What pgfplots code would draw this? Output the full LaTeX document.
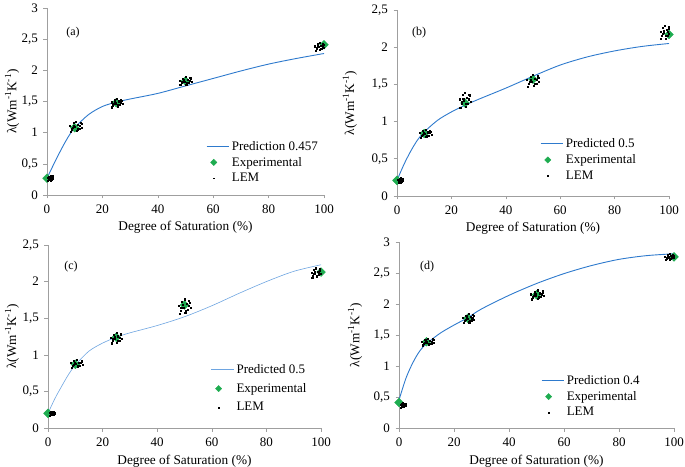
\documentclass[border=0pt]{standalone}
\usepackage{pgfplots}
\pgfplotsset{compat=1.18}
\usepackage{fontspec}
\setmainfont{Liberation Serif}
\definecolor{predblue}{RGB}{46,122,205}
\definecolor{predlight}{RGB}{110,165,225}
\definecolor{expgreen}{RGB}{30,172,80}
\tikzset{plabel/.style={font=\fontsize{12}{12}\selectfont}}
\pgfplotsset{
  panel/.style={
    scale only axis,
    axis x line*=bottom, axis y line*=left,
    axis line style={gray!75, line width=0.6pt},
    tick style={gray!75, line width=0.6pt},
    major tick length=3.5pt, tick align=outside,
    xmin=0, xmax=100, ymin=0,
    xtick={0,20,...,100},
    ticklabel style={font=\fontsize{13}{13}\selectfont},
    xticklabel style={yshift=-3pt},
    yticklabel style={xshift=-2pt},
    /pgf/number format/assume math mode=true,
    /pgf/number format/use comma,
    label style={font=\fontsize{13.3}{13.3}\selectfont},
    xlabel={Degree of Saturation (\%)},
    ylabel={λ(Wm\textsuperscript{-1}K\textsuperscript{-1})},
    legend style={draw=none, fill=none, inner sep=0pt, row sep=1.5pt,
      font=\fontsize{13}{13}\selectfont, anchor=north west},
    legend cell align=left,
    clip=false,
  },
  predline/.style={color=predblue, line width=0.9pt, smooth, no marks,
    legend image code/.code={\draw[##1] (0cm,0cm) -- (0.8cm,0cm);}},
  expmark/.style={only marks, mark=square*, mark size=3.1pt,
    mark options={rotate=45, fill=expgreen, draw=expgreen},
    legend image code/.code={\draw[mark=square*, mark size=2.2pt, mark options={rotate=45, fill=expgreen, draw=expgreen}] plot coordinates {(0.25cm,0cm)};}},
  lemmark/.style={only marks, mark=square*, mark size=0.55pt,
    mark options={fill=black, draw=black},
    legend image code/.code={\draw[mark=square*, mark size=0.4pt, mark options={fill=black, draw=black}] plot coordinates {(0.25cm,0cm)};}},
}
\begin{document}
\begin{tikzpicture}
% ---------------- (a)
\begin{axis}[panel, at={(47pt,271pt)}, anchor=south west,
  width=277pt, height=187pt, ymax=3, ytick={0,0.5,...,3},
  xlabel style={at={(axis description cs:0.5,-0.17)}, anchor=center},
  ylabel style={at={(axis description cs:-0.126,0.5)}, anchor=center},
  legend style={at={(axis description cs:0.574,0.30)}}]
\addplot[predline] coordinates {(0,0.27)(2.5,0.5)(5,0.72)(7.5,0.92)(10,1.08)(15,1.29)(20,1.42)(25,1.49)(30,1.54)(40,1.63)(50,1.75)(60,1.87)(70,1.99)(80,2.1)(90,2.19)(100,2.27)};
\addlegendentry{Prediction 0.457}
\addplot[expmark] coordinates {(0,0.27)(10,1.08)(25,1.48)(50,1.83)(100,2.41)};
\addlegendentry{Experimental}
\addplot[lemmark] coordinates {
(0.3,0.275)(0.6,0.245)(0.8,0.30)(1.0,0.265)(1.2,0.315)(1.3,0.23)(1.5,0.285)(1.7,0.25)(1.9,0.305)(2.1,0.26)(0.4,0.225)(1.8,0.275)(0.9,0.28)(1.4,0.245)(2.0,0.295)(0.7,0.26)
(8.34,1.109)(9.06,1.055)(9.54,1.154)(10.02,1.091)(10.5,1.181)(10.74,1.028)(11.22,1.127)(11.7,1.064)(12.18,1.163)(12.66,1.082)(8.58,1.019)(11.94,1.109)(9.78,1.118)(10.98,1.055)(12.42,1.145)(9.3,1.082)
(23.22,1.488)(23.88,1.44)(24.32,1.528)(24.76,1.472)(25.2,1.552)(25.42,1.416)(25.86,1.504)(26.3,1.448)(26.74,1.536)(27.18,1.464)(23.44,1.408)(26.52,1.488)(24.54,1.496)(25.64,1.44)(26.96,1.52)(24.1,1.464)
(47.84,1.837)(48.56,1.795)(49.04,1.872)(49.52,1.823)(50,1.893)(50.24,1.774)(50.72,1.851)(51.2,1.802)(51.68,1.879)(52.16,1.816)(48.08,1.767)(51.44,1.837)(49.28,1.844)(50.48,1.795)(51.92,1.865)(48.8,1.816)
(96.68,2.387)(97.22,2.345)(97.58,2.422)(97.94,2.373)(98.3,2.443)(98.48,2.324)(98.84,2.401)(99.2,2.352)(99.56,2.429)(99.92,2.366)(96.86,2.317)(99.38,2.387)(97.76,2.394)(98.66,2.345)(99.74,2.415)(97.4,2.366)
};
\addlegendentry{LEM}
\node[plabel] at (axis cs:9.4,2.6) {(a)};
\end{axis}
% ---------------- (b)
\begin{axis}[panel, at={(397pt,270pt)}, anchor=south west,
  width=272pt, height=186pt, ymax=2.5, ytick={0,0.5,...,2.5},
  xlabel style={at={(axis description cs:0.5,-0.172)}, anchor=center},
  ylabel style={at={(axis description cs:-0.173,0.5)}, anchor=center},
  legend style={at={(axis description cs:0.526,0.32)}}]
\addplot[predline] coordinates {(0,0.21)(2.5,0.42)(5,0.6)(7.5,0.75)(10,0.86)(15,1.02)(20,1.13)(25,1.22)(30,1.3)(40,1.45)(50,1.61)(60,1.76)(70,1.87)(80,1.95)(90,2.01)(100,2.05)};
\addlegendentry{Predicted 0.5}
\addplot[expmark] coordinates {(0,0.21)(10,0.84)(25,1.25)(50,1.57)(100,2.17)};
\addlegendentry{Experimental}
\addplot[lemmark] coordinates {
(0.4,0.214)(0.7,0.19)(0.9,0.234)(1.1,0.206)(1.3,0.246)(1.4,0.178)(1.6,0.222)(1.8,0.194)(2.0,0.238)(2.2,0.202)(0.5,0.174)(1.9,0.214)(1.0,0.218)(1.5,0.19)(2.1,0.23)(0.8,0.202)
(8.34,0.846)(9.06,0.81)(9.54,0.876)(10.02,0.834)(10.5,0.894)(10.74,0.792)(11.22,0.858)(11.7,0.816)(12.18,0.882)(12.66,0.828)(8.58,0.786)(11.94,0.846)(9.78,0.852)(10.98,0.81)(12.42,0.87)(9.3,0.828)
(23.02,1.301)(23.68,1.235)(24.12,1.356)(24.56,1.279)(25,1.389)(25.22,1.202)(25.66,1.323)(26.1,1.246)(26.54,1.367)(26.98,1.268)(23.24,1.191)(26.32,1.301)(24.34,1.312)(25.44,1.235)(26.76,1.345)(23.9,1.268)
(47.84,1.559)(48.56,1.505)(49.04,1.604)(49.52,1.541)(50,1.631)(50.24,1.478)(50.72,1.577)(51.2,1.514)(51.68,1.613)(52.16,1.532)(48.08,1.469)(51.44,1.559)(49.28,1.568)(50.48,1.505)(51.92,1.595)(48.8,1.532)
(96.88,2.21)(97.42,2.15)(97.78,2.26)(98.14,2.19)(98.5,2.29)(98.68,2.12)(99.04,2.23)(99.4,2.16)(99.76,2.27)(99.9,2.18)(97.06,2.11)(99.58,2.21)(97.96,2.22)(98.86,2.15)(99.94,2.25)(97.6,2.18)
};
\addlegendentry{LEM}
\node[plabel] at (axis cs:8.1,2.19) {(b)};
\end{axis}
% ---------------- (c)
\begin{axis}[panel, at={(48pt,38pt)}, anchor=south west,
  width=273pt, height=183pt, ymax=2.5, ytick={0,0.5,...,2.5},
  xlabel style={at={(axis description cs:0.5,-0.18)}, anchor=center},
  ylabel style={at={(axis description cs:-0.132,0.5)}, anchor=center},
  legend style={at={(axis description cs:0.597,0.36)}, row sep=4.5pt}]
\addplot[predline, color=predlight, line width=0.6pt] coordinates {(0,0.2)(2.5,0.4)(5,0.57)(7.5,0.73)(10,0.86)(15,1.05)(20,1.16)(25,1.24)(30,1.3)(40,1.4)(50,1.52)(60,1.67)(70,1.84)(80,2.0)(90,2.14)(100,2.23)};
\addlegendentry{Predicted 0.5}
\addplot[expmark] coordinates {(0,0.2)(10,0.87)(25,1.24)(50,1.68)(100,2.13)};
\addlegendentry{Experimental}
\addplot[lemmark] coordinates {
(0.6,0.203)(0.9,0.185)(1.1,0.218)(1.3,0.197)(1.5,0.227)(1.6,0.176)(1.8,0.209)(2.0,0.188)(2.2,0.221)(2.4,0.194)(0.7,0.173)(2.1,0.203)(1.2,0.206)(1.7,0.185)(2.3,0.215)(1.0,0.194)
(8.34,0.886)(9.06,0.85)(9.54,0.916)(10.02,0.874)(10.5,0.934)(10.74,0.832)(11.22,0.898)(11.7,0.856)(12.18,0.922)(12.66,0.868)(8.58,0.826)(11.94,0.886)(9.78,0.892)(10.98,0.85)(12.42,0.91)(9.3,0.868)
(23.02,1.238)(23.68,1.19)(24.12,1.278)(24.56,1.222)(25,1.302)(25.22,1.166)(25.66,1.254)(26.1,1.198)(26.54,1.286)(26.98,1.214)(23.24,1.158)(26.32,1.238)(24.34,1.246)(25.44,1.19)(26.76,1.27)(23.9,1.214)
(47.84,1.671)(48.56,1.605)(49.04,1.726)(49.52,1.649)(50,1.759)(50.24,1.572)(50.72,1.693)(51.2,1.616)(51.68,1.737)(52.16,1.638)(48.08,1.561)(51.44,1.671)(49.28,1.682)(50.48,1.605)(51.92,1.715)(48.8,1.638)
(96.58,2.127)(97.12,2.085)(97.48,2.162)(97.84,2.113)(98.2,2.183)(98.38,2.064)(98.74,2.141)(99.1,2.092)(99.46,2.169)(99.82,2.106)(96.76,2.057)(99.28,2.127)(97.66,2.134)(98.56,2.085)(99.64,2.155)(97.3,2.106)
};
\addlegendentry{LEM}
\node[plabel] at (axis cs:8.4,2.2) {(c)};
\end{axis}
% ---------------- (d)
\begin{axis}[panel, at={(399pt,38pt)}, anchor=south west,
  width=275pt, height=186pt, ymax=3, ytick={0,0.5,...,3},
  xlabel style={at={(axis description cs:0.5,-0.177)}, anchor=center},
  ylabel style={at={(axis description cs:-0.16,0.5)}, anchor=center},
  legend style={at={(axis description cs:0.516,0.295)}}]
\addplot[predline] coordinates {(0,0.45)(2.5,0.8)(5,1.05)(7.5,1.24)(10,1.36)(15,1.53)(20,1.66)(25,1.78)(30,1.92)(40,2.14)(50,2.33)(60,2.49)(70,2.62)(80,2.72)(90,2.78)(100,2.81)};
\addlegendentry{Prediction 0.4}
\addplot[expmark] coordinates {(0,0.41)(10,1.39)(25,1.77)(50,2.15)(100,2.76)};
\addlegendentry{Experimental}
\addplot[lemmark] coordinates {
(0.6,0.374)(0.9,0.35)(1.1,0.394)(1.3,0.366)(1.5,0.406)(1.6,0.338)(1.8,0.382)(2.0,0.354)(2.2,0.398)(2.4,0.362)(0.7,0.334)(2.1,0.374)(1.2,0.378)(1.7,0.35)(2.3,0.39)(1.0,0.362)
(8.34,1.396)(9.06,1.36)(9.54,1.426)(10.02,1.384)(10.5,1.444)(10.74,1.342)(11.22,1.408)(11.7,1.366)(12.18,1.432)(12.66,1.378)(8.58,1.336)(11.94,1.396)(9.78,1.402)(10.98,1.36)(12.42,1.42)(9.3,1.378)
(23.32,1.778)(23.98,1.73)(24.42,1.818)(24.86,1.762)(25.3,1.842)(25.52,1.706)(25.96,1.794)(26.4,1.738)(26.84,1.826)(27.28,1.754)(23.54,1.698)(26.62,1.778)(24.64,1.786)(25.74,1.73)(27.06,1.81)(24.2,1.754)
(47.96,2.158)(48.74,2.11)(49.26,2.198)(49.78,2.142)(50.3,2.222)(50.56,2.086)(51.08,2.174)(51.6,2.118)(52.12,2.206)(52.64,2.134)(48.22,2.078)(51.86,2.158)(49.52,2.166)(50.82,2.11)(52.38,2.19)(49.0,2.134)
(96.68,2.765)(97.22,2.735)(97.58,2.79)(97.94,2.755)(98.3,2.805)(98.48,2.72)(98.84,2.775)(99.2,2.74)(99.56,2.795)(99.92,2.75)(96.86,2.715)(99.38,2.765)(97.76,2.77)(98.66,2.735)(99.74,2.785)(97.4,2.75)
};
\addlegendentry{LEM}
\node[plabel] at (axis cs:10.2,2.6) {(d)};
\end{axis}
\pgfresetboundingbox
\useasboundingbox (0,0) rectangle (685pt,466pt);
\end{tikzpicture}
\end{document}
